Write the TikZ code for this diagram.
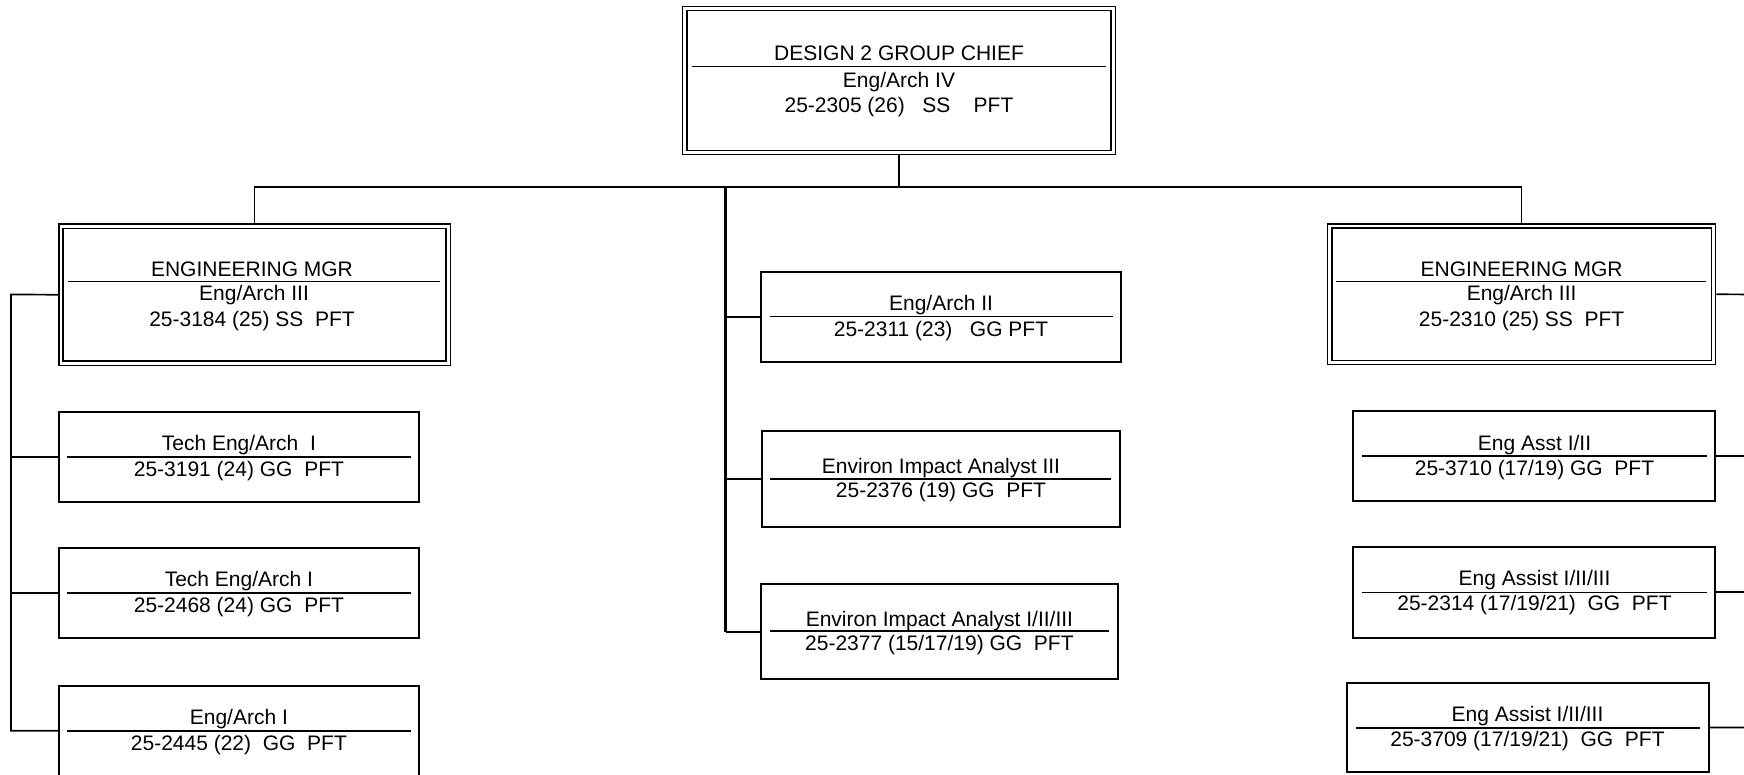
\documentclass[tikz,border=0pt]{standalone}
\usepackage{fontspec}
\setmainfont{Liberation Sans}
\usetikzlibrary{calc}
\begin{document}
\begin{tikzpicture}[x=1pt,y=-1pt,
  box/.style={draw,line width=1.8pt,fill=white,inner sep=0pt,outer sep=0.9pt,rectangle},
  dbox/.style={draw,line width=1.6pt,double,double distance=2.7pt,inner sep=0pt,outer sep=2.95pt,rectangle},
  txt/.style={anchor=base,inner sep=0pt,font=\fontsize{21}{25}\selectfont},
  rulel/.style={line width=1.6pt},
  conn/.style={line width=1.7pt},
  spine/.style={line width=2.6pt}]
\useasboundingbox (0,0) rectangle (1744,775);
\clip (0,0) rectangle (1744,775);

% boxes
\node[dbox,minimum width=428.4pt,minimum height=144pt] (top) at (899,80.5) {};
\node[dbox,minimum width=387.2pt,minimum height=137pt] (lm) at (254.6,294.7) {};
\node[dbox,minimum width=383.8pt,minimum height=136.3pt] (rm) at (1521.6,294.3) {};
\node[box,minimum width=360.3pt,minimum height=90pt] (l1) at (238.9,456.7) {};
\node[box,minimum width=360.3pt,minimum height=90.3pt] (l2) at (238.9,592.9) {};
\node[box,minimum width=360.3pt,minimum height=90pt] (l3) at (238.9,730.7) {};
\node[box,minimum width=360pt,minimum height=90pt] (c1) at (941,316.7) {};
\node[box,minimum width=358pt,minimum height=95.7pt] (c2) at (941,478.9) {};
\node[box,minimum width=357.3pt,minimum height=95.3pt] (c3) at (939.4,631.7) {};
\node[box,minimum width=361.7pt,minimum height=90pt] (r1) at (1534.2,456) {};
\node[box,minimum width=361.7pt,minimum height=90.7pt] (r2) at (1534.2,592.3) {};
\node[box,minimum width=361.7pt,minimum height=89.6pt] (r3) at (1527.9,727.5) {};

% dividers
\draw[rulel] (691.7,66.7) -- (1106,66.7);
\draw[rulel] (68,281.7) -- (440,281.7);
\draw[rulel] (1336,281.7) -- (1706,281.7);
\draw[rulel] (67.3,456.7) -- (410.7,456.7);
\draw[rulel] (67.3,592.7) -- (410.7,592.7);
\draw[rulel] (67.3,731) -- (410.7,731);
\draw[rulel] (770,316.7) -- (1112.7,316.7);
\draw[rulel] (770,478.7) -- (1110.7,478.7);
\draw[rulel] (770,631) -- (1109,631);
\draw[rulel] (1362,456) -- (1706.7,456);
\draw[rulel] (1362,592.3) -- (1706.7,592.3);
\draw[rulel] (1355.7,727.7) -- (1700,727.7);

% texts
\node[txt] (top-a) at (899,60.7) {DESIGN 2 GROUP CHIEF};
\node[txt] (top-b) at (899,87.3) {Eng/Arch IV};
\node[txt] (top-c) at (899,112.3) {25-2305 (26)~~~SS~~~~PFT};

\node[txt] (lm-a) at (252,276.7) {ENGINEERING MGR};
\node[txt] (lm-b) at (254,301) {Eng/Arch III};
\node[txt] (lm-c) at (252,326.7) {25-3184 (25) SS~~PFT};

\node[txt] (rm-a) at (1521.6,276.2) {ENGINEERING MGR};
\node[txt] (rm-b) at (1521.6,301) {Eng/Arch III};
\node[txt] (rm-c) at (1521.6,326.7) {25-2310 (25) SS~~PFT};

\node[txt] (l1-a) at (238.9,450) {Tech Eng/Arch~~I};
\node[txt] (l1-b) at (238.9,476) {25-3191 (24) GG~~PFT};
\node[txt] (l2-a) at (238.9,586.7) {Tech Eng/Arch I};
\node[txt] (l2-b) at (238.9,612.3) {25-2468 (24) GG~~PFT};
\node[txt] (l3-a) at (238.9,724.5) {Eng/Arch I};
\node[txt] (l3-b) at (238.9,750) {25-2445 (22)~~GG~~PFT};

\node[txt] (c1-a) at (941,310.7) {Eng/Arch II};
\node[txt] (c1-b) at (941,336) {25-2311 (23)~~~GG PFT};
\node[txt] (c2-a) at (941,473.3) {Environ Impact Analyst III};
\node[txt] (c2-b) at (941,497.5) {25-2376 (19) GG~~PFT};
\node[txt] (c3-a) at (939.4,626) {Environ Impact Analyst I/II/III};
\node[txt] (c3-b) at (939.4,650.7) {25-2377 (15/17/19) GG~~PFT};

\node[txt] (r1-a) at (1534.5,450) {Eng Asst I/II};
\node[txt] (r1-b) at (1534.5,475) {25-3710 (17/19) GG~~PFT};
\node[txt] (r2-a) at (1534.5,585.7) {Eng Assist I/II/III};
\node[txt] (r2-b) at (1534.5,610.7) {25-2314 (17/19/21)~~GG~~PFT};
\node[txt] (r3-a) at (1527.5,721.7) {Eng Assist I/II/III};
\node[txt] (r3-b) at (1527.5,746.7) {25-3709 (17/19/21)~~GG~~PFT};

% connector coordinates
\coordinate (busL) at (254.6,187);
\coordinate (busR) at (1521.6,187);
\coordinate (busT) at (899,187);
\coordinate (spT) at (725.7,187);
\coordinate (lsp) at (11,294.5);
\coordinate (rsp) at (1765,294.5);

% connectors
\draw[conn] (lm.north) -- (busL) -- (busR) -- (rm.north);
\draw[spine] (top.south) -- (busT) -- (spT) -- (spT |- c3.west);
\draw[conn] (spT |- c1.west) -- (c1.west);
\draw[conn] (spT |- c2.west) -- (c2.west);
\draw[conn] (spT |- c3.west) -- (c3.west);
\draw[conn] (lm.west) -- (lsp) |- (l3.west);
\draw[conn] (lsp |- l1.west) -- (l1.west);
\draw[conn] (lsp |- l2.west) -- (l2.west);
\draw[conn] (rm.east) -- (rsp) |- (r3.east);
\draw[conn] (rsp |- r1.east) -- (r1.east);
\draw[conn] (rsp |- r2.east) -- (r2.east);
\end{tikzpicture}
\end{document}
